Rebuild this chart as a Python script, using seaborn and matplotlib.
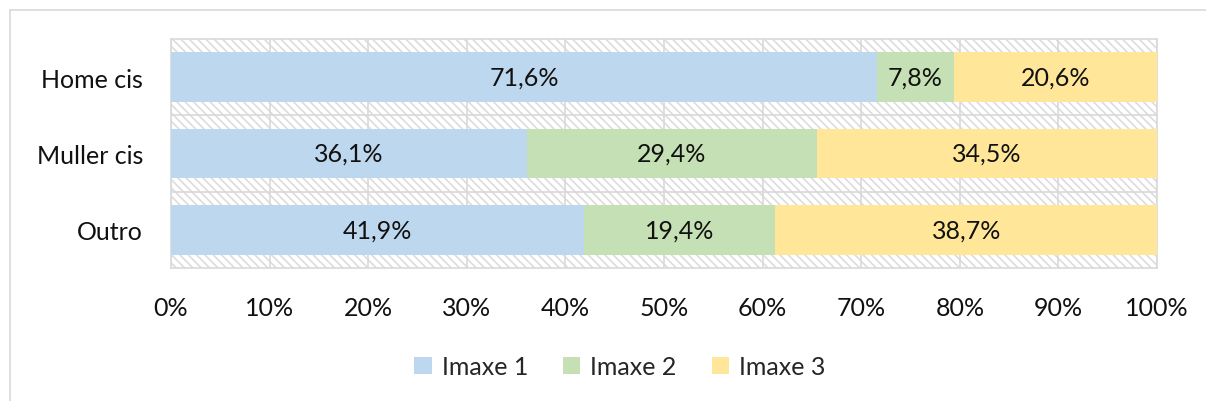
import pandas as pd
import numpy as np
import seaborn as sns
import matplotlib.pyplot as plt
from matplotlib.patches import Rectangle, Patch
from matplotlib.lines import Line2D

categories = ["Home cis", "Muller cis", "Outro"]
series = ["Imaxe 1", "Imaxe 2", "Imaxe 3"]
imaxe1 = [71.6, 36.1, 41.9]
imaxe2 = [7.8, 29.4, 19.4]
imaxe3 = [20.6, 34.5, 38.7]
colors = ["#BDD7EE", "#C5E0B4", "#FFE699"]

sns.set_theme(style="white")
plt.rcParams["font.family"] = ["Lato", "DejaVu Sans"]
plt.rcParams["hatch.color"] = "#dcdcdc"
plt.rcParams["hatch.linewidth"] = 1.2

df = pd.DataFrame({"cat": categories, "Imaxe 1": imaxe1, "Imaxe 2": imaxe2, "Imaxe 3": imaxe3})
vals = df[series].to_numpy() / 100.0
cum = np.cumsum(vals, axis=1)

fig = plt.figure(figsize=(12.06, 4.02), dpi=100)
ax = fig.add_axes([0.1418, 0.3308, 0.8176, 0.5697])

# hatched plot-area background
ax.add_patch(Rectangle((0, 0), 1, 1, transform=ax.transAxes, facecolor="white",
                       hatch="\\\\\\\\", edgecolor="#dcdcdc", linewidth=0, zorder=0))

# stacked bars: draw cumulative totals from the last series back to the first
for i in range(len(series) - 1, -1, -1):
    sns.barplot(x=cum[:, i], y=categories, orient="h", color=colors[i],
                width=0.65, saturation=1, ax=ax, zorder=3, linewidth=0)

for r in range(len(categories)):
    for i in range(len(series)):
        center = cum[r, i] - vals[r, i] / 2
        ax.text(center, r, f"{vals[r, i]*100:.1f}%".replace(".", ","),
                ha="center", va="center", fontsize=18, color="#111111", zorder=4)

ax.set_xlim(0, 1)
ax.set_ylim(2.5, -0.5)
ax.set_xticks(np.arange(0, 1.01, 0.1))
ax.set_xticklabels([f"{int(round(t*100))}%" for t in np.arange(0, 1.01, 0.1)])
ax.set_yticks([0.5, 1.5], minor=True)
ax.grid(True, axis="x", which="major", color="#d9d9d9", linewidth=1.2, zorder=1)
ax.grid(True, axis="y", which="minor", color="#d9d9d9", linewidth=1.2, zorder=1)
ax.set_axisbelow(True)
ax.tick_params(axis="both", which="both", length=0, labelsize=18, colors="#111111")
ax.tick_params(axis="x", pad=20)
ax.tick_params(axis="y", pad=20)
ax.set_xlabel("")
ax.set_ylabel("")
for s in ax.spines.values():
    s.set_color("#d9d9d9")
    s.set_linewidth(1.2)

handles = [Patch(facecolor=c, edgecolor="none") for c in colors]
fig.legend(handles, series, loc="center", bbox_to_anchor=(0.514, 0.085), ncol=3,
           frameon=False, fontsize=18, handlelength=0.7, handleheight=0.7,
           handletextpad=0.4, columnspacing=1.4)

# chart border (cropped at right and bottom)
fig.add_artist(Line2D([10/1206, 1], [1 - 11/402, 1 - 11/402], transform=fig.transFigure,
                      color="#d9d9d9", linewidth=1.2))
fig.add_artist(Line2D([10/1206, 10/1206], [0, 1 - 11/402], transform=fig.transFigure,
                      color="#d9d9d9", linewidth=1.2))

fig.savefig("out.png", dpi=100)
